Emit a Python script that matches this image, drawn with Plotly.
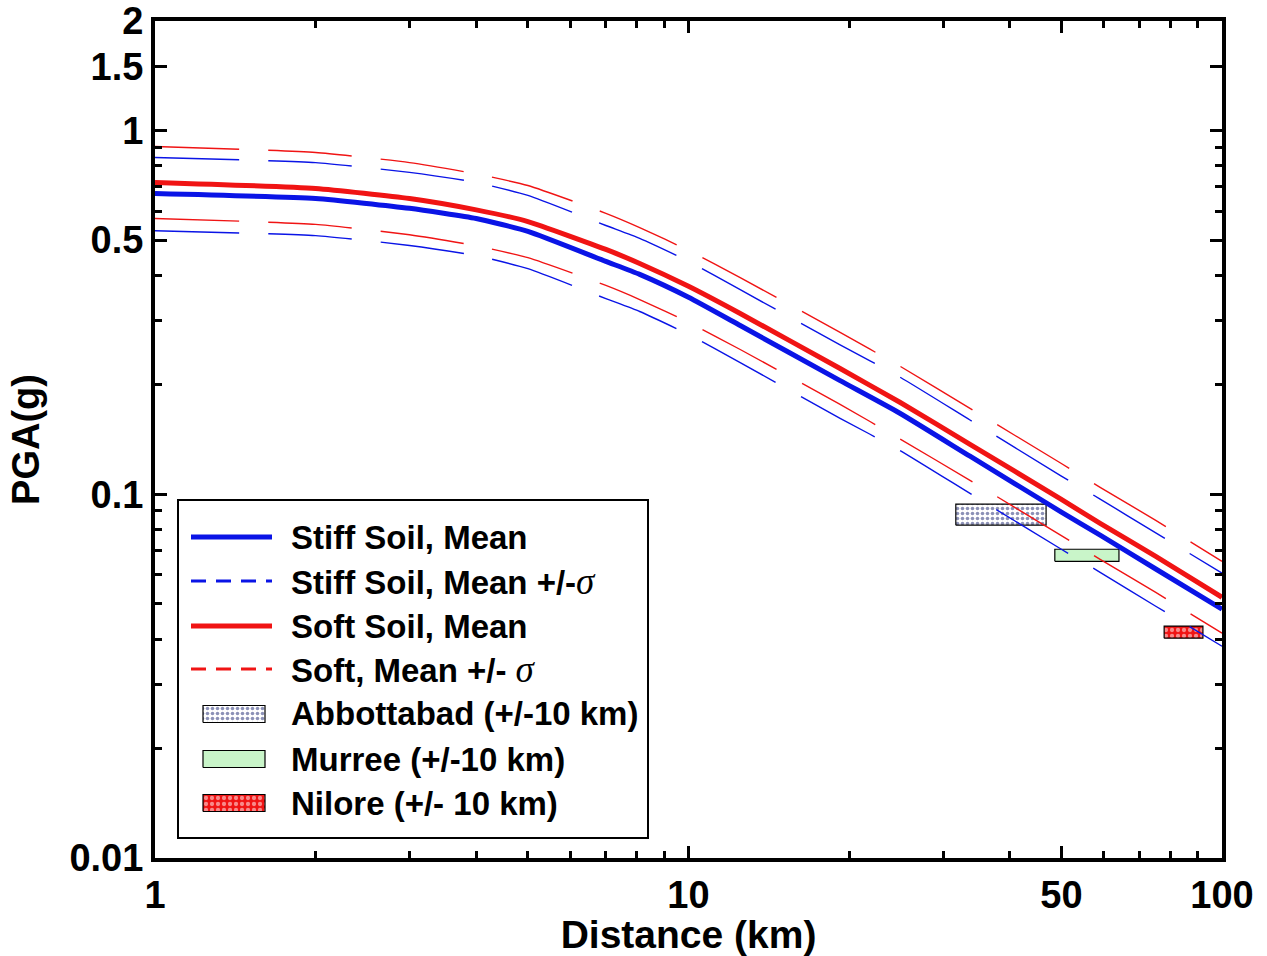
import plotly.graph_objects as go

# Hypocentral distance (km)
distance_km = [1, 2, 3, 4, 5, 7, 8.1, 10, 12.5, 19.2, 24.9, 33.7, 49.9, 59.1, 75, 100]

# Stiff soil PGA (g): mean and mean +/- one sigma
stiff_mean = [0.671, 0.650, 0.611, 0.573, 0.528, 0.4366, 0.4022, 0.348, 0.291, 0.2056,
              0.167, 0.1272, 0.0895, 0.0772, 0.0624, 0.0483]
stiff_plus = [0.843, 0.816, 0.767, 0.720, 0.663, 0.548, 0.505, 0.437, 0.365, 0.258,
              0.210, 0.160, 0.1124, 0.0970, 0.0784, 0.0607]
stiff_minus = [0.530, 0.514, 0.483, 0.453, 0.417, 0.345, 0.318, 0.275, 0.230, 0.162,
               0.132, 0.1005, 0.0707, 0.0610, 0.0493, 0.0382]

# Soft soil PGA (g): mean and mean +/- one sigma
soft_mean = [0.720, 0.693, 0.650, 0.605, 0.562, 0.471, 0.431, 0.373, 0.314, 0.222,
             0.179, 0.1372, 0.0969, 0.0832, 0.0676, 0.0521]
soft_plus = [0.904, 0.870, 0.816, 0.760, 0.706, 0.592, 0.541, 0.468, 0.394, 0.279,
             0.225, 0.1723, 0.1217, 0.1045, 0.0849, 0.0654]
soft_minus = [0.573, 0.552, 0.517, 0.482, 0.447, 0.375, 0.343, 0.297, 0.250, 0.177,
              0.142, 0.1092, 0.0771, 0.0662, 0.0538, 0.0415]

# Observed sites: distance window and PGA window
site_names = ["Abbottabad (+/-10 km)", "Murree (+/-10 km)", "Nilore (+/- 10 km)"]
site_dist_lo = [31.7, 48.6, 77.9]
site_dist_hi = [46.8, 64.1, 92.1]
site_pga_lo = [0.0822, 0.0654, 0.0402]
site_pga_hi = [0.0939, 0.0706, 0.0434]

# Axis ticks
x_major = [1, 10, 50, 100]
x_major_text = ["1", "10", "50", "100"]
x_minor = [2, 3, 4, 5, 6, 7, 8, 9, 20, 30, 40, 60, 70, 80, 90]
y_major = [0.01, 0.1, 0.5, 1, 1.5, 2]
y_major_text = ["0.01", "0.1", "0.5", "1", "1.5", "2"]
y_minor = [0.02, 0.03, 0.04, 0.05, 0.06, 0.07, 0.08, 0.09,
           0.2, 0.3, 0.4, 0.6, 0.7, 0.8, 0.9]

BLUE = "#0a14e6"
RED = "#f01414"
FONT = "Liberation Sans"
SIGMA = "<span style=\"font-family:'Liberation Serif';font-weight:normal;font-size:37px\"><i>σ</i></span>"

# Page geometry (pixels) of the plotting area
W, H = 1267, 956
PL, PR, PT, PB = 155, 1222, 21, 858


def px_x(p):
    return (p - PL) / (PR - PL)


def px_y(p):
    return (PB - p) / (PB - PT)


site_style = [
    dict(fillcolor="white", fillpattern=dict(shape=".", fgcolor="#1a2470", bgcolor="white",
                                             size=5, solidity=0.4)),
    dict(fillcolor="#c9f5c9"),
    dict(fillcolor=RED, fillpattern=dict(shape=".", fgcolor="white", bgcolor=RED,
                                         size=6, solidity=0.4)),
]

fig = go.Figure()

# Site boxes (drawn first so curves sit on top)
for i, name in enumerate(site_names):
    x0, x1 = site_dist_lo[i], site_dist_hi[i]
    y0, y1 = site_pga_lo[i], site_pga_hi[i]
    fig.add_trace(go.Scatter(
        x=[x0, x1, x1, x0, x0], y=[y0, y0, y1, y1, y0],
        mode="lines", fill="toself", name=name, showlegend=False,
        line=dict(color="black", width=1.2), **site_style[i]))

DATA_DASH = "84px,29px"

# Sigma bands
for ys, col in [(stiff_plus, BLUE), (stiff_minus, BLUE), (soft_plus, RED), (soft_minus, RED)]:
    fig.add_trace(go.Scatter(x=distance_km, y=ys, mode="lines", showlegend=False,
                             line=dict(color=col, width=1.4, dash=DATA_DASH,
                                       shape="spline", smoothing=0.5)))

# Mean curves
fig.add_trace(go.Scatter(x=distance_km, y=stiff_mean, mode="lines", showlegend=False,
                         line=dict(color=BLUE, width=5, shape="spline", smoothing=0.5)))
fig.add_trace(go.Scatter(x=distance_km, y=soft_mean, mode="lines", showlegend=False,
                         line=dict(color=RED, width=5, shape="spline", smoothing=0.5)))

# ---- Legend panel ----
LEG_BOX = (178, 500, 648, 838)
ROW_Y = [537, 581, 626, 669, 714, 759, 803]
SAMPLE_X = (191, 272)
SWATCH_X = (203, 265)
SWATCH_H = 17
TEXT_X = 289
LEG_FONT = dict(family=FONT, size=33, color="black", weight="bold")
LEG_DASH = "15px,10px"

shapes = [dict(type="rect", xref="paper", yref="paper", layer="below",
               x0=px_x(LEG_BOX[0]), x1=px_x(LEG_BOX[2]),
               y0=px_y(LEG_BOX[3]), y1=px_y(LEG_BOX[1]),
               line=dict(color="black", width=2), fillcolor="white")]

line_rows = [
    ("Stiff Soil, Mean", BLUE, 5, "solid"),
    ("Stiff Soil, Mean +/-" + SIGMA, BLUE, 3, LEG_DASH),
    ("Soft Soil, Mean", RED, 5, "solid"),
    ("Soft, Mean +/- " + SIGMA, RED, 3, LEG_DASH),
]
annotations = []
for k, (label, col, w, dash) in enumerate(line_rows):
    yy = px_y(ROW_Y[k])
    shapes.append(dict(type="line", xref="paper", yref="paper",
                       x0=px_x(SAMPLE_X[0]), x1=px_x(SAMPLE_X[1]), y0=yy, y1=yy,
                       line=dict(color=col, width=w, dash=dash)))
    annotations.append(dict(xref="paper", yref="paper", x=px_x(TEXT_X), y=yy,
                            xanchor="left", yanchor="middle", text=label,
                            showarrow=False, font=LEG_FONT))

# Patterned swatches for the site boxes, on an overlay axis pair spanning the plot area
for i, name in enumerate(site_names):
    yc = ROW_Y[4 + i]
    sx0, sx1 = px_x(SWATCH_X[0]), px_x(SWATCH_X[1])
    sy0, sy1 = px_y(yc + SWATCH_H / 2), px_y(yc - SWATCH_H / 2)
    fig.add_trace(go.Scatter(
        x=[sx0, sx1, sx1, sx0, sx0], y=[sy0, sy0, sy1, sy1, sy0],
        xaxis="x2", yaxis="y2", mode="lines", fill="toself", showlegend=False,
        hoverinfo="skip", line=dict(color="black", width=1.2), **site_style[i]))
    annotations.append(dict(xref="paper", yref="paper", x=px_x(TEXT_X), y=px_y(yc),
                            xanchor="left", yanchor="middle", text=name,
                            showarrow=False, font=LEG_FONT))

axis_common = dict(
    type="log", showline=True, linewidth=4, linecolor="black", mirror="ticks",
    ticks="inside", ticklen=12, tickwidth=3, tickcolor="black",
    showgrid=False, zeroline=False,
    tickfont=dict(family=FONT, size=38, color="black", weight="bold"),
)

fig.update_xaxes(
    **axis_common, range=[0, 2], tickmode="array", tickvals=x_major, ticktext=x_major_text,
    minor=dict(tickmode="array", tickvals=x_minor, ticks="inside", ticklen=7,
               tickwidth=3, tickcolor="black", showgrid=False),
    title=dict(text="Distance (km)", font=dict(family=FONT, size=39, color="black", weight="bold"),
               standoff=2),
)
fig.update_yaxes(
    **axis_common, range=[-2, 0.30103], tickmode="array", tickvals=y_major, ticktext=y_major_text,
    minor=dict(tickmode="array", tickvals=y_minor, ticks="inside", ticklen=7,
               tickwidth=3, tickcolor="black", showgrid=False),
    title=dict(text="PGA(g)", font=dict(family=FONT, size=38, color="black", weight="bold"),
               standoff=19),
)

fig.update_layout(
    width=W, height=H,
    margin=dict(l=PL, r=W - PR, t=PT, b=H - PB, autoexpand=False),
    paper_bgcolor="white", plot_bgcolor="white",
    showlegend=False,
    xaxis2=dict(overlaying="x", range=[0, 1], visible=False, fixedrange=True),
    yaxis2=dict(overlaying="y", range=[0, 1], visible=False, fixedrange=True),
    shapes=shapes,
    annotations=annotations,
)

fig.write_html("out.html")
